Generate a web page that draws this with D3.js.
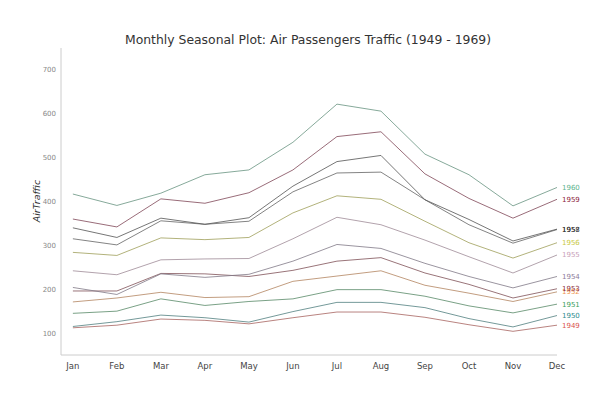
<!DOCTYPE html>
<html><head><meta charset="utf-8">
<script src="https://cdn.jsdelivr.net/npm/d3@7"></script>
<style>body{margin:0;background:#fff}</style>
</head><body><svg id="c" width="600" height="400"></svg>
<script>
const months = ["Jan","Feb","Mar","Apr","May","Jun","Jul","Aug","Sep","Oct","Nov","Dec"];
const years = [1949,1950,1951,1952,1953,1954,1955,1956,1957,1958,1959,1960];
const v1949 = [112,118,132,129,121,135,148,148,136,119,104,118];
const v1950 = [115,126,141,135,125,149,170,170,158,133,114,140];
const v1951 = [145,150,178,163,172,178,199,199,184,162,146,166];
const v1952 = [171,180,193,181,183,218,230,242,209,191,172,194];
const v1953 = [196,196,236,235,229,243,264,272,237,211,180,201];
const v1954 = [204,188,235,227,234,264,302,293,259,229,203,229];
const v1955 = [242,233,267,269,270,315,364,347,312,274,237,278];
const v1956 = [284,277,317,313,318,374,413,405,355,306,271,306];
const v1957 = [315,301,356,348,355,422,465,467,404,347,305,336];
const v1958 = [340,318,362,348,363,435,491,505,404,359,310,337];
const v1959 = [360,342,406,396,420,472,548,559,463,407,362,405];
const v1960 = [417,391,419,461,472,535,622,606,508,461,390,432];
const yTicks = [100,200,300,400,500,600,700];
const colors = ["#d9544d","#2e8b8b","#3c9e5a","#f0944d","#8b2e3a","#8c7c99","#c9a0b8","#c8c840","#555555","#333333","#8b1a3a","#5bb38c"];
const seriesValues = [v1949,v1950,v1951,v1952,v1953,v1954,v1955,v1956,v1957,v1958,v1959,v1960];

const svg = d3.select("#c");
const x = d3.scaleLinear().domain([-0.27, 11]).range([61, 557]);
const y = d3.scaleLinear().domain([50, 750]).range([355, 48]);

svg.append("line").attr("x1",61).attr("x2",61).attr("y1",48).attr("y2",355).attr("stroke","#ccc").attr("stroke-width",1);
svg.append("line").attr("x1",61).attr("x2",557).attr("y1",355).attr("y2",355).attr("stroke","#ccc").attr("stroke-width",1);

svg.append("g").selectAll("text").data(yTicks).join("text")
  .attr("x",56).attr("y",d=>y(d)).attr("dy","0.35em").attr("text-anchor","end")
  .attr("font-family","DejaVu Sans").attr("font-size",7).attr("fill","#888").text(d=>d);
svg.append("g").selectAll("text").data(months).join("text")
  .attr("x",(d,i)=>x(i)).attr("y",366).attr("dy","0.35em").attr("text-anchor","middle")
  .attr("font-family","DejaVu Sans").attr("font-size",8.5).attr("fill","#444").text(d=>d);

const line = d3.line().x((d,i)=>x(i)).y(d=>y(d));
seriesValues.forEach((vals,k)=>{
  svg.append("path").datum(vals).attr("d",line).attr("fill","none")
    .attr("stroke", d3.interpolateRgb(colors[k], "#777")(0.5)).attr("stroke-width",0.9).attr("stroke-opacity",0.9);
  svg.append("text").attr("x",x(11)+5).attr("y",y(vals[11])).attr("dy","0.35em")
    .attr("font-family","DejaVu Sans").attr("font-size",7).attr("fill",colors[k]).text(years[k]);
});

svg.append("text").attr("x",308).attr("y",44).attr("text-anchor","middle")
  .attr("font-family","DejaVu Sans").attr("font-size",12.4).attr("fill","#333")
  .text("Monthly Seasonal Plot: Air Passengers Traffic (1949 - 1969)");
svg.append("text").attr("transform","translate(40,201) rotate(-90)").attr("text-anchor","middle")
  .attr("font-family","DejaVu Sans").attr("font-style","italic").attr("font-size",9.5).attr("fill","#333")
  .text("AirTraffic");
</script></body></html>
